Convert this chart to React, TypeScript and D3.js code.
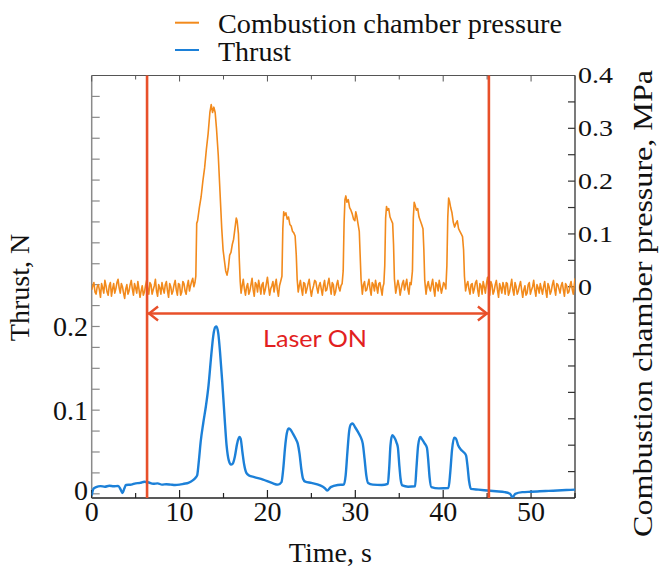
import React from "react";
import * as d3 from "d3";

// ---------- data ----------
const timeTicks = [0, 10, 20, 30, 40, 50];
const thrustTickLabels = [0, 0.1, 0.2];
const pressureTickLabels = [0, 0.1, 0.2, 0.3, 0.4];
const laserOn = [6.3, 45.2];

const pressurePre: [number, number][] = [
  [0, -0.006], [0.25, 0.008], [0.5, -0.014], [0.75, 0.004], [1, -0.02], [1.25, -0.002], [1.5, 0.012], [1.75, -0.01],
  [2, 0.002], [2.25, -0.018], [2.5, 0.006], [2.75, -0.004], [3, 0.014], [3.25, -0.012], [3.5, 0.0], [3.75, -0.022],
  [4, 0.004], [4.25, -0.008], [4.5, 0.012], [4.75, -0.016], [5, -0.002], [5.25, 0.01], [5.5, -0.02], [5.75, 0.002],
  [6, -0.01], [6.25, 0.012], [6.5, -0.014], [6.75, 0.004], [7, -0.006], [7.25, 0.014], [7.5, -0.018], [7.75, -0.002],
  [8, 0.008], [8.25, -0.012], [8.5, 0.01], [8.75, -0.02], [9, 0.0], [9.25, -0.008], [9.5, 0.012], [9.75, -0.016],
  [10, 0.004], [10.25, -0.01], [10.5, 0.006], [10.75, -0.014], [11, 0.012], [11.25, 0.002], [11.5, 0.016], [11.75, 0.008],
];

const pressureBurn: [number, number][] = [
  [11.85, 0.02], [11.95, 0.12], [12.05, 0.125], [12.25, 0.15], [12.45, 0.17], [12.65, 0.2], [12.85, 0.225], [13.05, 0.26],
  [13.25, 0.29], [13.45, 0.33], [13.6, 0.345], [13.75, 0.33], [13.9, 0.34], [14.05, 0.33], [14.2, 0.3], [14.4, 0.25],
  [14.6, 0.18], [14.8, 0.11], [14.95, 0.07], [15.1, 0.05], [15.25, 0.03], [15.4, 0.022], [15.55, 0.035], [15.7, 0.06],
  [15.85, 0.065], [16.0, 0.08], [16.15, 0.09], [16.3, 0.11], [16.45, 0.13], [16.55, 0.125], [16.7, 0.1], [16.8, 0.05], [16.9, 0.01],
  [17.0, -0.012], [17.25, 0.014], [17.5, -0.016], [17.75, 0.006], [18.0, -0.008], [18.25, 0.016], [18.5, -0.018], [18.75, 0.004],
  [19.0, 0.012], [19.25, -0.014], [19.5, 0.008], [19.75, -0.006], [20.0, 0.018], [20.25, -0.016], [20.5, 0.002], [20.75, -0.01],
  [21.0, 0.014], [21.25, -0.018], [21.5, 0.01],
  [21.65, 0.02], [21.75, 0.11], [21.85, 0.142], [21.95, 0.135], [22.1, 0.14], [22.25, 0.128], [22.4, 0.132], [22.55, 0.118],
  [22.7, 0.115], [22.85, 0.105], [23.0, 0.102], [23.15, 0.096], [23.28, 0.06], [23.38, 0.015],
  [23.5, -0.01], [23.75, 0.012], [24.0, -0.016], [24.25, 0.006], [24.5, -0.004], [24.75, 0.014], [25.0, -0.018], [25.25, 0.002],
  [25.5, 0.01], [25.75, -0.012], [26.0, 0.008], [26.25, -0.016], [26.5, 0.012], [26.75, -0.006], [27.0, 0.016], [27.25, -0.014],
  [27.5, 0.004], [27.75, -0.01], [28.0, 0.012], [28.25, -0.008], [28.5, 0.006],
  [28.62, 0.03], [28.72, 0.12], [28.82, 0.165], [28.92, 0.172], [29.05, 0.16], [29.2, 0.165], [29.35, 0.15], [29.5, 0.145],
  [29.65, 0.138], [29.8, 0.128], [29.95, 0.125], [30.05, 0.142], [30.15, 0.135], [30.3, 0.12], [30.45, 0.105], [30.55, 0.06], [30.65, 0.015],
  [30.8, -0.014], [31.05, 0.01], [31.3, -0.006], [31.55, 0.014], [31.8, -0.016], [32.05, 0.004], [32.3, 0.012], [32.55, -0.012],
  [32.8, 0.008], [33.05, -0.016], [33.25, 0.006],
  [33.35, 0.04], [33.45, 0.13], [33.55, 0.152], [33.65, 0.145], [33.8, 0.148], [33.95, 0.132], [34.1, 0.126], [34.25, 0.12],
  [34.35, 0.08], [34.45, 0.015],
  [34.6, -0.012], [34.85, 0.012], [35.1, -0.016], [35.35, 0.006], [35.6, -0.006], [35.85, 0.014], [36.1, -0.014], [36.35, 0.004],
  [36.5, 0.03], [36.6, 0.13], [36.7, 0.16], [36.8, 0.155], [36.95, 0.145], [37.1, 0.148], [37.25, 0.132], [37.4, 0.125],
  [37.55, 0.118], [37.7, 0.11], [37.8, 0.07], [37.9, 0.012],
  [38.05, -0.014], [38.3, 0.01], [38.55, -0.008], [38.8, 0.014], [39.05, -0.018], [39.3, 0.004], [39.55, 0.012], [39.8, -0.012],
  [40.05, 0.008], [40.3, -0.004],
  [40.42, 0.04], [40.52, 0.13], [40.62, 0.168], [40.72, 0.162], [40.85, 0.15], [41.0, 0.14], [41.15, 0.122], [41.3, 0.113],
  [41.45, 0.12], [41.6, 0.125], [41.75, 0.11], [41.9, 0.105], [42.05, 0.1], [42.2, 0.095], [42.32, 0.07], [42.42, 0.02],
];

const pressurePost: [number, number][] = [
  [42.55, -0.008], [42.8, 0.01], [43.05, -0.014], [43.3, 0.006], [43.55, -0.004], [43.8, 0.012], [44.05, -0.018], [44.3, 0.002],
  [44.55, 0.01], [44.8, -0.012], [45.05, 0.018], [45.3, -0.016], [45.55, 0.004], [45.8, -0.008], [46.05, 0.012], [46.3, -0.02],
  [46.55, -0.002], [46.8, 0.008], [47.05, -0.014], [47.3, 0.006], [47.55, -0.01], [47.8, 0.014], [48.05, -0.016], [48.3, 0.0],
  [48.55, -0.008], [48.8, 0.01], [49.05, -0.02], [49.3, 0.002], [49.55, -0.012], [49.8, 0.008], [50.05, -0.006], [50.3, 0.012],
  [50.55, -0.018], [50.8, -0.002], [51.05, 0.006], [51.3, -0.014], [51.55, 0.01], [51.8, -0.02], [52.05, 0.0], [52.3, -0.008],
  [52.55, 0.012], [52.8, -0.016], [53.05, 0.004], [53.3, -0.012], [53.55, 0.008], [53.8, -0.018], [54.05, 0.002], [54.3, -0.01],
  [54.55, 0.01], [54.8, -0.014], [55, 0.016],
];

// extra readings of the noisy baseline between the samples above
const pressureNoise: [number, number][] = [
  [0.125, 0.002], [0.375, -0.01], [0.625, 0.0], [0.875, -0.006], [1.125, 0.006], [1.375, -0.012], [1.625, 0.002], [1.875, -0.016],
  [2.125, 0.008], [2.375, -0.004], [2.625, -0.012], [2.875, 0.008], [3.125, -0.002], [3.375, 0.006], [3.625, -0.012], [3.875, -0.004],
  [4.125, -0.014], [4.375, 0.004], [4.625, -0.004], [4.875, 0.006], [5.125, -0.012], [5.375, -0.004], [5.625, -0.008], [5.875, -0.016],
  [6.125, 0.002], [6.375, -0.004], [6.625, 0.008], [6.875, -0.014], [7.125, 0.002], [7.375, -0.008], [7.625, 0.004], [7.875, -0.014],
  [8.125, -0.004], [8.375, 0.004], [8.625, -0.008], [8.875, 0.006], [9.125, -0.014], [9.375, 0.004], [9.625, -0.006], [9.875, 0.006],
  [10.125, -0.016], [10.375, 0.01], [10.625, -0.008], [10.875, 0.002], [11.125, -0.008], [11.375, 0.01], [11.625, 0.0],
  [17.125, 0.002], [17.375, -0.004], [17.625, 0.0], [17.875, -0.014], [18.125, 0.004], [18.375, -0.006], [18.625, 0.008], [18.875, -0.01],
  [19.125, 0.0], [19.375, 0.004], [19.625, -0.014], [19.875, 0.006], [20.125, 0.0], [20.375, -0.004], [20.625, 0.01], [20.875, 0.004],
  [21.125, -0.006], [21.375, 0.002],
  [23.625, 0.002], [23.875, -0.004], [24.125, 0.008], [24.375, -0.012], [24.625, 0.006], [24.875, -0.004], [25.125, -0.006], [25.375, 0.012],
  [25.625, -0.002], [25.875, 0.002], [26.125, -0.004], [26.375, 0.002], [26.625, -0.008], [26.875, 0.006], [27.125, 0.0], [27.375, 0.008],
  [27.625, -0.016], [27.875, 0.004], [28.125, -0.002], [28.375, 0.002],
  [30.925, 0.004], [31.175, -0.008], [31.425, 0.004], [31.675, -0.004], [31.925, 0.008], [32.175, -0.008], [32.425, 0.0], [32.675, 0.006],
  [32.925, -0.004], [33.15, 0.0],
  [34.725, 0.0], [34.975, 0.002], [35.225, -0.004], [35.475, 0.012], [35.725, 0.004], [35.975, -0.004], [36.225, 0.008],
  [38.175, 0.002], [38.425, -0.002], [38.675, 0.004], [38.925, -0.004], [39.175, 0.008], [39.425, -0.008], [39.675, 0.0], [39.925, -0.002],
  [40.175, 0.004],
  [42.675, 0.004], [42.925, -0.004], [43.175, 0.004], [43.425, -0.012], [43.675, 0.008], [43.925, -0.006], [44.175, 0.006], [44.425, -0.014],
  [44.675, 0.0], [44.925, 0.006], [45.175, -0.004], [45.425, 0.01], [45.675, -0.014], [45.925, 0.004], [46.175, -0.006], [46.425, 0.006],
  [46.675, -0.012], [46.925, 0.0], [47.175, 0.008], [47.425, -0.016], [47.675, 0.002], [47.925, -0.006], [48.175, 0.008], [48.425, -0.014],
  [48.675, 0.002], [48.925, -0.006], [49.175, -0.006], [49.425, -0.016], [49.675, 0.004], [49.925, -0.014], [50.175, 0.0], [50.425, -0.006],
  [50.675, 0.004], [50.925, -0.012], [51.175, -0.004], [51.425, 0.0], [51.675, -0.008], [51.925, 0.006], [52.175, -0.014], [52.425, 0.004],
  [52.675, -0.004], [52.925, 0.006], [53.175, -0.004], [53.425, 0.002], [53.675, -0.006], [53.925, 0.006], [54.175, -0.012], [54.425, 0.002],
  [54.675, -0.004], [54.925, 0.004],
];

const thrust: [number, number][] = [
  [0, -0.002], [0.2, 0.006], [0.5, 0.008], [1, 0.0092], [1.5, 0.0085], [2, 0.0096], [2.5, 0.009], [3, 0.0095], [3.3, 0.005],
  [3.5, 0.001], [3.7, 0.006], [3.9, 0.0105], [4.5, 0.011], [5, 0.0125], [5.5, 0.013], [6, 0.0145], [6.5, 0.0135], [7, 0.012],
  [7.5, 0.0125], [8, 0.011], [8.5, 0.0115], [9, 0.011], [9.5, 0.0105], [10, 0.011], [10.5, 0.012], [11, 0.013], [11.5, 0.016],
  [11.8, 0.019], [12.0, 0.022], [12.2, 0.04], [12.4, 0.062], [12.7, 0.085], [13.0, 0.105], [13.3, 0.13], [13.6, 0.165],
  [13.85, 0.19], [14.05, 0.199], [14.2, 0.2], [14.4, 0.192], [14.6, 0.17], [14.85, 0.135], [15.1, 0.095], [15.35, 0.058],
  [15.6, 0.04], [15.85, 0.035], [16.05, 0.036], [16.3, 0.045], [16.55, 0.06], [16.8, 0.068], [16.95, 0.066], [17.15, 0.05],
  [17.35, 0.035], [17.6, 0.025], [17.9, 0.022], [18.5, 0.02], [19.5, 0.017], [20.5, 0.013], [21.2, 0.011],
  [21.6, 0.014], [21.8, 0.03], [22.0, 0.055], [22.2, 0.072], [22.4, 0.078], [22.6, 0.077], [22.9, 0.072], [23.2, 0.066],
  [23.45, 0.06], [23.65, 0.048], [23.85, 0.03], [24.05, 0.018], [24.3, 0.0145], [25, 0.013], [26, 0.01], [26.5, 0.007],
  [26.8, 0.004], [27.2, 0.008], [28, 0.0105],
  [28.7, 0.011], [28.9, 0.022], [29.1, 0.05], [29.3, 0.075], [29.5, 0.083], [29.7, 0.084], [29.95, 0.08], [30.3, 0.074],
  [30.6, 0.068], [30.85, 0.06], [31.05, 0.042], [31.25, 0.022], [31.45, 0.013], [32, 0.011], [33, 0.0105],
  [33.7, 0.012], [33.85, 0.03], [34.0, 0.058], [34.2, 0.07], [34.4, 0.068], [34.7, 0.061], [34.85, 0.055], [35.0, 0.035],
  [35.15, 0.018], [35.35, 0.01], [36, 0.0085],
  [36.8, 0.009], [36.95, 0.03], [37.15, 0.058], [37.4, 0.068], [37.6, 0.065], [37.9, 0.06], [38.15, 0.055], [38.3, 0.04],
  [38.45, 0.02], [38.65, 0.008], [39.5, 0.0065],
  [40.6, 0.007], [40.8, 0.025], [41.0, 0.052], [41.25, 0.067], [41.45, 0.066], [41.7, 0.058], [42.0, 0.053], [42.3, 0.05],
  [42.6, 0.046], [42.75, 0.035], [42.95, 0.015], [43.15, 0.006],
  [44, 0.005], [45, 0.004], [46, 0.003], [47, 0.002], [47.6, 0.0], [47.9, -0.004], [48.2, 0.0], [49, 0.002], [50, 0.0025],
  [51, 0.003], [52, 0.0035], [53, 0.004], [54, 0.0045], [55, 0.005],
];

// ---------- layout ----------
const W = 666;
const H = 568;
const X0 = 91.7;
const X1 = 575;
const YT = 75.5;
const YB = 498;

const ORANGE = "#f28a1c";
const BLUE = "#1c80d8";
const RED = "#e8502a";
const SERIF = "'Times New Roman', 'Liberation Serif', Times, serif";

export default function App() {
  const x = d3.scaleLinear().domain([0, 55]).range([X0, X1]);
  const yT = d3.scaleLinear().domain([-0.005, 0.5]).range([YB, YT]);
  const yP = d3.scaleLinear().domain([-0.4, 0.4]).range([YB, YT]);

  const pressure = d3.sort([...pressurePre, ...pressureBurn, ...pressurePost, ...pressureNoise], (d) => d[0]);
  const pLine = d3.line<[number, number]>().x((d) => x(d[0])).y((d) => yP(d[1]));
  const tLine = d3.line<[number, number]>().x((d) => x(d[0])).y((d) => yT(d[1])).curve(d3.curveMonotoneX);

  const minorX = d3.range(0, 56, 5);
  const leftTicks = d3.range(0, 0.4751, 0.025);
  const rightTicks = d3.range(-0.35, 0.3501, 0.05);

  const arrowY = 313.5;
  const xa = x(laserOn[0]);
  const xb = x(laserOn[1]);

  return (
    <svg width={W} height={H} style={{ display: "block", position: "absolute", left: 0, top: 0, background: "#fff" }}>
      <defs>
        <clipPath id="plot">
          <rect x={X0} y={YT} width={X1 - X0} height={YB - YT} />
        </clipPath>
      </defs>
      <rect width={W} height={H} fill="#fff" />

      {/* legend */}
      <line x1={175} x2={199} y1={22.7} y2={22.7} stroke={ORANGE} strokeWidth={2} />
      <line x1={175} x2={199} y1={50} y2={50} stroke={BLUE} strokeWidth={2} />
      <text x={218} y={33} fontFamily={SERIF} fontSize={28} fill="#111" textLength={344} lengthAdjust="spacingAndGlyphs">
        Combustion chamber pressure
      </text>
      <text x={218} y={61} fontFamily={SERIF} fontSize={28} fill="#111">
        Thrust
      </text>

      {/* frame */}
      <line x1={X0} x2={X1} y1={YT} y2={YT} stroke="#555" strokeWidth={1.2} />
      <line x1={X0} x2={X1} y1={YB} y2={YB} stroke="#222" strokeWidth={1.5} />
      <line x1={X0} x2={X0} y1={YT} y2={YB} stroke="#8a8a8a" strokeWidth={1.5} />
      <line x1={X1} x2={X1} y1={YT} y2={YB} stroke="#333" strokeWidth={1.3} />

      {/* bottom & top ticks */}
      {minorX.map((t) => (
        <g key={"bx" + t}>
          <line x1={x(t)} x2={x(t)} y1={YB} y2={YB - (t % 10 === 0 ? 8 : 5)} stroke="#222" strokeWidth={1.2} />
          <line x1={x(t)} x2={x(t)} y1={YT} y2={YT + (t % 10 === 0 ? 6 : 4)} stroke="#555" strokeWidth={1} />
        </g>
      ))}
      {timeTicks.map((t) => (
        <text key={"xl" + t} x={x(t)} y={521} textAnchor="middle" fontFamily={SERIF} fontSize={28} fill="#111">
          {t}
        </text>
      ))}

      {/* left ticks */}
      {leftTicks.map((v, i) => (
        <line key={"lt" + i} x1={X0} x2={X0 + 8} y1={yT(v)} y2={yT(v)} stroke="#8a8a8a" strokeWidth={1.2} />
      ))}
      {thrustTickLabels.map((v) => (
        <text key={"ll" + v} x={88} y={yT(v) + (v === 0 ? 6 : 9.5)} textAnchor="end" fontFamily={SERIF} fontSize={28} fill="#111">
          {v === 0 ? "0" : v.toFixed(1)}
        </text>
      ))}

      {/* right ticks */}
      {rightTicks.map((v, i) => (
        <line key={"rt" + i} x1={X1} x2={X1 - 7} y1={yP(v)} y2={yP(v)} stroke="#333" strokeWidth={1.2} />
      ))}
      {pressureTickLabels.map((v) => (
        <text
          key={"rl" + v}
          transform={`translate(578, ${yP(v)}) scale(1, 0.82)`}
          y={9.5}
          fontFamily={SERIF}
          fontSize={28}
          fill="#111"
        >
          {v === 0 ? "0" : v.toFixed(1)}
        </text>
      ))}

      {/* axis titles */}
      <text transform={`translate(29, 287.5) rotate(-90)`} textAnchor="middle" fontFamily={SERIF} fontSize={28} fill="#111">
        Thrust, N
      </text>
      <text
        transform={`translate(652, 303.5) rotate(-90)`}
        textAnchor="middle"
        fontFamily={SERIF}
        fontSize={28}
        fill="#111"
        textLength={467}
        lengthAdjust="spacingAndGlyphs"
      >
        Combustion chamber pressure, MPa
      </text>
      <text x={(X0 + X1) / 2 - 3} y={562} textAnchor="middle" fontFamily={SERIF} fontSize={28} fill="#111">
        Time, s
      </text>

      {/* data */}
      <g clipPath="url(#plot)">
        <path d={pLine(pressure) || ""} fill="none" stroke={ORANGE} strokeWidth={1.6} strokeLinejoin="round" />
        <path d={tLine(thrust) || ""} fill="none" stroke={BLUE} strokeWidth={2.4} strokeLinejoin="round" />
      </g>

      {/* laser on markers */}
      {laserOn.map((t) => (
        <line key={"lz" + t} x1={x(t)} x2={x(t)} y1={YT} y2={YB} stroke={RED} strokeWidth={2.6} />
      ))}
      <line x1={xa + 1} x2={xb - 1} y1={arrowY} y2={arrowY} stroke={RED} strokeWidth={2.4} />
      <polyline
        points={`${xa + 11},${arrowY - 7} ${xa + 2},${arrowY} ${xa + 11},${arrowY + 7}`}
        fill="none"
        stroke={RED}
        strokeWidth={2.4}
      />
      <polyline
        points={`${xb - 11},${arrowY - 7} ${xb - 2},${arrowY} ${xb - 11},${arrowY + 7}`}
        fill="none"
        stroke={RED}
        strokeWidth={2.4}
      />
      <text
        x={263}
        y={347}
        fontFamily="Lato, 'Open Sans', sans-serif"
        fontSize={23}
        fill="#e21f1f"
        textLength={104}
        lengthAdjust="spacingAndGlyphs"
      >
        Laser ON
      </text>
    </svg>
  );
}
